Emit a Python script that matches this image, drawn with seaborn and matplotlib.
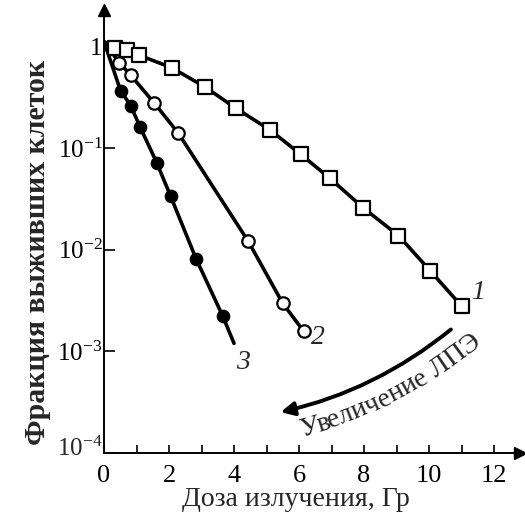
import math
import numpy as np
import pandas as pd
import matplotlib
matplotlib.use("Agg")
import matplotlib.pyplot as plt
import seaborn as sns
from matplotlib.patches import FancyArrowPatch
from matplotlib.ticker import FixedLocator, FixedFormatter, NullLocator
from matplotlib.font_manager import FontProperties
from matplotlib.transforms import IdentityTransform

# ---- data ----
dose_1 = [0.34, 0.72, 1.09, 2.08, 3.11, 4.05, 5.11, 6.05, 6.95, 7.98, 9.06, 10.03, 11.0]
surv_1 = [0.97, 0.935, 0.82, 0.62, 0.40, 0.248, 0.151, 0.087, 0.0506, 0.0258, 0.0138, 0.00625, 0.0028]
dose_2 = [0.47, 0.82, 1.54, 2.29, 4.44, 5.50, 6.15]
surv_2 = [0.695, 0.523, 0.28, 0.14, 0.0121, 0.00297, 0.00157]
dose_3 = [0.51, 0.82, 1.11, 1.62, 2.05, 2.83, 3.65]
surv_3 = [0.368, 0.263, 0.162, 0.0722, 0.0337, 0.0082, 0.00224]
start_dose, start_surv = 0.0, 1.12          # common origin of the curves
end3_dose, end3_surv = 4.0, 0.0012           # line 3 continues past last point

x_ticks = list(range(0, 13))
x_labels = [str(v) if v % 2 == 0 else "" for v in x_ticks]
y_ticks = [1e0, 1e-1, 1e-2, 1e-3, 1e-4]
y_labels = ["1", r"$\mathregular{10^{-1}}$", r"$\mathregular{10^{-2}}$",
            r"$\mathregular{10^{-3}}$", r"$\mathregular{10^{-4}}$"]
curve_names = ["1", "2", "3"]
xlabel = "Доза излучения, Гр"
ylabel = "Фракция выживших клеток"
arrow_text = "Увеличение ЛПЭ"

sns.set_theme(style="ticks")
plt.rcParams["font.family"] = ["Liberation Serif", "DejaVu Serif"]
plt.rcParams["mathtext.fontset"] = "custom"
plt.rcParams["mathtext.rm"] = "Liberation Serif"

W, H = 525, 523
fig = plt.figure(figsize=(W / 100, H / 100), dpi=100)
fig.patch.set_facecolor("white")
ax = fig.add_axes([104 / W, 1 - 453 / H, (520 - 104) / W, (453 - 10) / H])
ax.set_facecolor("white")

lines = []
for name, d, s in [("1", dose_1, surv_1), ("2", dose_2, surv_2), ("3", dose_3, surv_3)]:
    dd = [start_dose] + list(d)
    ss = [start_surv] + list(s)
    if name == "3":
        dd.append(end3_dose)
        ss.append(end3_surv)
    lines.append(pd.DataFrame({"dose": dd, "surv": ss, "curve": name}))
line_df = pd.concat(lines, ignore_index=True)

for name in curve_names:
    sub = line_df[line_df.curve == name]
    sns.lineplot(data=sub, x="dose", y="surv", sort=False, estimator=None,
                 color="black", lw=2.6, ax=ax, zorder=2)

pts1 = pd.DataFrame({"dose": dose_1, "surv": surv_1})
pts2 = pd.DataFrame({"dose": dose_2, "surv": surv_2})
pts3 = pd.DataFrame({"dose": dose_3, "surv": surv_3})
sns.scatterplot(data=pts1, x="dose", y="surv", marker="s", s=88, facecolor="white",
                edgecolor="black", linewidth=1.6, ax=ax, zorder=3)
sns.scatterplot(data=pts2, x="dose", y="surv", marker="o", s=80, facecolor="white",
                edgecolor="black", linewidth=1.6, ax=ax, zorder=3)
sns.scatterplot(data=pts3, x="dose", y="surv", marker="o", s=78, facecolor="black",
                edgecolor="black", linewidth=1.0, ax=ax, zorder=3)

ax.set_yscale("log")
ax.set_xlim(0, 12.8)
ax.set_ylim(1e-4, 10 ** 0.36)

ax.xaxis.set_major_locator(FixedLocator(x_ticks))
ax.xaxis.set_major_formatter(FixedFormatter(x_labels))
ax.yaxis.set_major_locator(FixedLocator(y_ticks))
ax.yaxis.set_major_formatter(FixedFormatter(y_labels[:-1] + [""]))
ax.yaxis.set_minor_locator(NullLocator())
ax.xaxis.set_minor_locator(NullLocator())
ax.tick_params(axis="x", direction="in", length=6, width=1.2, labelsize=19, pad=9, colors="black")
ax.tick_params(axis="y", direction="in", length=8, width=1.2, labelsize=18, pad=1, colors="black")
ax.set_xlabel("")
ax.set_ylabel("")
# bottom y label drawn separately, nudged up so it clears the "0" below it
ax.annotate(y_labels[-1], xy=(0, y_ticks[-1]), xytext=(-1, 3), textcoords="offset points",
            ha="right", va="center", fontsize=18, annotation_clip=False)

for side in ["top", "right"]:
    ax.spines[side].set_visible(False)
for side in ["left", "bottom"]:
    ax.spines[side].set_linewidth(1.4)
    ax.spines[side].set_color("black")

# axis arrows
ax.plot(1, 0, marker=">", ms=8, color="black", transform=ax.transAxes, clip_on=False)
ax.plot(0, 1, marker="^", ms=8, color="black", transform=ax.transAxes, clip_on=False)

fig.text(296 / W, 1 - 500 / H, xlabel, fontsize=20, ha="center", va="center")
fig.text(38 / W, 1 - 252 / H, ylabel, fontsize=21.5, fontweight="bold", rotation=90,
         ha="center", va="center")

# curve numbers
ax.text(11.52, 0.00383, curve_names[0], fontsize=20, style="italic", ha="center", va="center")
ax.text(6.58, 0.00137, curve_names[1], fontsize=20, style="italic", ha="center", va="center")
ax.text(4.28, 0.00078, curve_names[2], fontsize=20, style="italic", ha="center", va="center")

# curved arrow
arr = FancyArrowPatch((10.74, 0.00171), (5.35, 0.000249), connectionstyle="arc3,rad=-0.12",
                      arrowstyle="-|>", mutation_scale=20, lw=2.8, color="black")
ax.add_patch(arr)

# text along a gentle arc
renderer = fig.canvas.get_renderer()
fp = FontProperties(family=["Liberation Serif", "DejaVu Serif"], size=20)


def tw(s):
    return renderer.get_text_width_height_descent(s + "x", fp, ismath=False)[0] - \
        renderer.get_text_width_height_descent("x", fp, ismath=False)[0]


sx, sy = 302, H - 437
a0, a1 = math.radians(15), math.radians(40)
total = tw(arrow_text)
k = (a1 - a0) / total
for i, ch in enumerate(arrow_text):
    if ch == " ":
        continue
    smid = (tw(arrow_text[:i]) + tw(arrow_text[:i + 1])) / 2
    th = a0 + k * smid
    px = sx + (math.sin(th) - math.sin(a0)) / k
    py = sy - (math.cos(th) - math.cos(a0)) / k
    fig.text(px, py, ch, transform=IdentityTransform(), fontproperties=fp,
             rotation=math.degrees(th), rotation_mode="anchor", ha="center", va="baseline")

fig.savefig("out.png", dpi=100, facecolor="white")
